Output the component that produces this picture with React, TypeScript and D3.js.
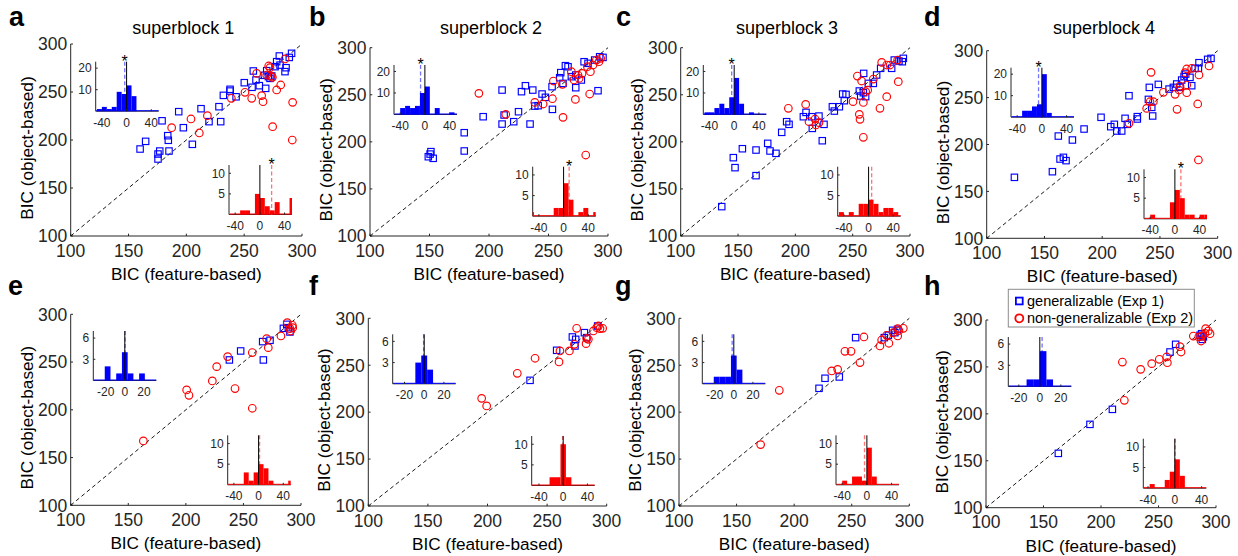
import React from 'react';
import * as d3 from 'd3';

// ---------------- data (BIC feature-based, BIC object-based) ----------------
const blueA: [number, number][] = [[160,190.6],[164.8,198.6],[175.5,185.4],[175.5,180.2],[177,188.5],[179,220],[183.9,204.5],[184.4,199.7],[185,188.5],[193.4,229.5],[197.4,212.8],[205.2,195.5],[212.7,232.6],[219.6,219.1],[228.2,234.7],[229.7,219.1],[232,246.5],[237.8,252.8],[237.8,251],[243,245],[250.1,259.7],[256.8,254.9],[257.9,271.9],[260.2,262.5],[263.1,256.6],[268.6,253.8],[267.4,267.4],[269.5,272.2],[270.9,266],[272.3,264.2],[273.8,266.7],[276.7,276.4],[278.1,281.6],[280.4,287.5],[281,278],[285.3,271.2],[286.2,275.3],[289,286],[291,290.3]];
const redA: [number, number][] = [[187.3,212.8],[204,221.9],[211.2,207.3],[218.2,225.3],[238.9,243.4],[250.7,249.7],[256.5,243.4],[260.8,269.4],[265.1,246.2],[266.3,239.9],[271.2,277.1],[272.3,275.3],[272.9,266.7],[274.4,265.3],[274.6,213.9],[278.1,252.1],[281.6,257.3],[285.3,284.4],[291.9,239.2],[291.6,200],[269.5,267.7]];

const blueB: [number, number][] = [[149,184.2],[151.2,189.6],[153.1,182.5],[150.5,187],[179.2,209.7],[179.2,190.3],[195.1,226.7],[211,255],[211,218.9],[212.7,228.5],[220.8,221.4],[224.8,232],[227.3,253.3],[230.6,259.6],[236.8,255],[234.5,218.9],[238.5,238],[241.3,238.4],[244.6,250.8],[247.4,247.3],[253.3,234.5],[253,258.6],[259.4,268.1],[260.3,273.5],[262.2,262.1],[264.2,280.9],[266.4,279.8],[272.9,257.5],[272.9,271],[277.6,265.7],[279.9,285.1],[283.2,283.4],[288.8,286.9],[291.6,254.3],[293,290.4],[295.8,289.7],[269.2,269.2]];
const redB: [number, number][] = [[191.5,251.5],[214.1,229.2],[238.5,241.9],[245.5,240.2],[253.3,245.8],[254.1,264.6],[261.7,261.1],[262.2,226],[269.2,274.5],[271.5,265.7],[272.6,245.1],[274.8,271],[275.7,267.4],[278.2,272.7],[281.3,186],[282.7,279.8],[284.6,250.8],[285.2,274.5],[287.4,281.6],[290.2,286.9],[292.4,285.1],[293.8,288.7]];

const blueC: [number, number][] = [[135.8,131.2],[145.9,183.2],[147.4,172.6],[153.8,192.7],[165.7,164.1],[165.7,191.3],[175.9,198.4],[177.9,190.3],[183.1,187.8],[188.1,210.1],[192.4,221.4],[194.5,218.6],[207,226.7],[209.3,231.3],[214.2,226.7],[220.6,227.4],[225,218.6],[223.5,201.2],[214.8,214.3],[232.3,237.3],[234,232.7],[238.4,237.3],[241.3,250.8],[244.2,250.4],[242.7,243.7],[255.8,254],[257,248.7],[259.3,252.2],[261.3,248],[259.6,272.7],[263.7,262.1],[268,262.1],[270.9,271],[274.4,278.1],[284,278.1],[286.3,286.9],[290.4,285.8],[294.2,288.7],[293.3,285.1]];
const redC: [number, number][] = [[193.9,235.6],[209,239.8],[211.9,221.4],[217.2,224.2],[218,217.9],[220.6,220.4],[250.3,242.7],[254.1,269.9],[255.8,229.2],[256.4,223.9],[257.8,264.6],[259.3,241.9],[259.3,204.8],[261.3,253.3],[263.1,255],[268,266.7],[273.8,235.6],[275.3,284.4],[279.7,248],[279.7,281.6],[282.6,281.6],[289.2,286.9],[289.8,263.9]];

const blueD: [number, number][] = [[124,165],[156.9,171],[162,209],[163.5,184.5],[166.4,186.3],[168.7,182.8],[174.2,204.8],[184.3,216.5],[199,229],[207.4,219],[210.5,221.5],[212.6,214.4],[216.9,214.4],[219.8,227.9],[221.8,221.5],[223.2,252],[230.4,227.2],[230.4,229.7],[240,248.1],[240.8,260.9],[242.9,239.6],[243.7,230.4],[248.6,264.1],[257.9,259.1],[261.6,260.9],[264.5,264.5],[268.8,268.7],[270.9,272.3],[272.3,275.1],[276,271.6],[277.5,262.7],[280.4,281.2],[283.8,287.2],[283.3,281.2],[291.3,290.8],[294.2,291.8],[267.4,260.9]];
const redD: [number, number][] = [[223.2,222.6],[238.5,238.5],[241.4,245.6],[242.3,276.9],[244.3,245.6],[253,255.6],[263.1,253.5],[264.8,237.5],[266.5,258.1],[267.4,262.3],[271.7,276.6],[273.2,280.5],[273.2,263.4],[273.2,255.2],[277.5,281.2],[282.7,243.2],[283.3,183.5],[283.8,274.1],[292.5,283.7]];

const blueE: [number, number][] = [[237.8,252.2],[247.6,261.6],[266.7,271.4],[267.3,252.2],[273.1,272.8],[284.7,285.3],[287.6,289.5],[289,286],[290.4,281.5]];
const redE: [number, number][] = [[163.1,167.4],[200.7,220.8],[202.7,215.2],[223,230.2],[226.8,245.2],[236.3,255.7],[242.7,222.2],[257.7,259.9],[257.7,201.6],[270.2,274.5],[271.6,265.1],[282.6,277.3],[288.1,291.3],[290.4,285],[291,282.5],[292.5,288.5],[292.8,286]];

const blueF: [number, number][] = [[235.7,233.9],[258,265.9],[271.2,280.1],[274,277.6],[273.4,270.5],[281.3,284.7],[283.2,279.4],[292.4,291.8]];
const redF: [number, number][] = [[195.1,214.7],[199.3,206.6],[225,241.4],[239.9,257.4],[260,253.5],[260.8,265.2],[268.7,265.2],[272.9,272.3],[274.8,289.3],[282.7,273],[283.2,278.7],[284.6,277.6],[288.8,286.5],[293,291.8],[294.4,289],[296.6,289.3],[291.6,290]];

const blueG: [number, number][] = [[221.6,225.4],[226.8,236.1],[239.2,237.5],[253.4,279.4],[278.3,279.4],[281.8,281.9],[285.5,287.2],[287.5,284.7],[289.9,288.3]];
const redG: [number, number][] = [[170.9,165.4],[187.1,223.3],[232.6,243.9],[237.8,245.6],[244.1,264.8],[249.4,264.8],[257.2,252.8],[260.6,280.1],[274.5,270.5],[276,276.9],[280.3,281.9],[282.3,273.4],[286.1,284.7],[289.9,281.2],[289.9,289],[291,287],[294.8,289.3]];

const blueH: [number, number][] = [[162.9,157.9],[190.4,188.8],[209.9,204.8],[260,265.9],[264.9,274.1],[286.1,283.7],[287.5,285.4],[288.1,279.4],[289,282]];
const redH: [number, number][] = [[218.6,255.2],[220.3,214.4],[234.5,247.4],[244.1,253.5],[250.7,258.1],[257.1,260.6],[257.7,254.5],[268.7,271.6],[269.6,265.9],[280.3,282.9],[287,277.6],[287.5,282.9],[290.4,285.8],[291,290.8],[293.3,288.3],[294.8,285.4],[285,282]];

// ---------------- histogram counts (object minus feature BIC) ----------------
// wide bins: first edge -56, width 8 ; narrow bins: first edge -33, width 6
const blueHistA = [0,1,2,1,2,9,8,12,7,0,0,0,0,0];
const redHistA  = [0,0,0,1,1,0,5,4,2,1,3,0,0,4];
const blueHistB = [0,0,3,4,3,4,10,13,0,3,0,0,1,0];
const redHistB  = [1,0,0,0,0,2,2,8,4,0,1,2,0,1];
const blueHistC = [0,1,1,3,5,3,8,17,5,0,1,0,0,0];
const redHistC  = [0,1,0,1,0,3,3,4,3,1,2,2,1,0];
const blueHistD = [0,0,0,3,3,5,6,20,2,0,0,0,0,0];
const redHistD  = [0,0,1,0,0,0,4,7,5,1,1,0,1,1];
const blueHistE = [0,0,2,0,1,4,1,0,1,0,0];
const redHistE  = [0,0,0,0,3,1,3,5,4,1,0,0,0,1];
const blueHistF = [0,0,0,0,3,4,2,0,0,0,0];
const redHistF  = [2,2,10,2];           // first edge -22.5, width 9
const blueHistG = [0,0,1,1,1,4,2,0,0,0,0];
const redHistG  = [0,0,1,0,2,2,1,9,2,0,0,0,0,0];
const blueHistH = [1,1,5,1];            // first edge -12.6, width 6.3
const redHistH  = [1,0,0,2,4,7,3];      // first edge -37.5, width 7.5

const blueMedians = [-3, -7, -4, -5.4, 0.3, -0.6, -1.7, 2.2];
const redMedians  = [19, 9, 5, 9.7, 1.6, -1, -3.8, 0.5];
const blueStars = [true, true, true, true, false, false, false, false];
const redStars  = [true, true, false, true, false, false, false, false];

const mainTicks = [100, 150, 200, 250, 300];
const wideTicks = [-40, 0, 40];
const narrowTicks = [-20, 0, 20];
const blueWideYTicks = [10, 20];
const blueNarrowYTicks = [3, 6];
const redYTicks = [5, 10];
const titles = ['superblock 1', 'superblock 2', 'superblock 3', 'superblock 4'];
const letters = ['a', 'b', 'c', 'd', 'e', 'f', 'g', 'h'];
const legendLabels = ['generalizable (Exp 1)', 'non-generalizable (Exp 2)'];
const xLabel = 'BIC (feature-based)';
const yLabel = 'BIC (object-based)';

// ---------------- layout ----------------
const BLUE = '#0000ff';
const RED = '#ff0000';
const BLUE_DASH = '#7373ff';
const RED_DASH = '#ff7373';
const INK = '#262626';
const FONT = '"Liberation Sans", Arial, Helvetica, sans-serif';
const INSET_W = 63;
const INSET_H = 49.5;

const LAYOUT = [
  { frame: [70.7, 302, 44, 236], blueIn: [95.7, 61.7], redIn: [229, 165], letter: [9, 26], title: [183.3, 33.5] },
  { frame: [370, 608, 47.7, 236], blueIn: [394, 65], redIn: [532.7, 166.7], letter: [309, 26], title: [491, 33.5] },
  { frame: [680.7, 910, 47.7, 236], blueIn: [703.3, 65], redIn: [837.7, 166.7], letter: [616, 26], title: [787, 33.5] },
  { frame: [986.7, 1217.7, 50.7, 238.3], blueIn: [1011, 67.7], redIn: [1144, 169.3], letter: [924, 26], title: [1104, 33.5] },
  { frame: [70.7, 301, 314.3, 505.3], blueIn: [93.3, 331], redIn: [227.7, 435.3], letter: [8, 295], title: null },
  { frame: [368.3, 606.7, 318.3, 506], blueIn: [392.7, 334.3], redIn: [531.7, 436], letter: [309, 295], title: null },
  { frame: [679, 909.3, 318.3, 506], blueIn: [702.3, 334.3], redIn: [836, 435.3], letter: [615, 295], title: null },
  { frame: [986, 1216, 320, 507.7], blueIn: [1008.3, 337], redIn: [1143.3, 438.7], letter: [924, 295], title: null },
];

type Hist = { counts: number[]; lo: number; w: number; domain: [number, number]; yMax: number; yTicks: number[]; xTicks: number[] };

const wide = (counts: number[], yMax: number, yTicks: number[], domain: [number, number] = [-50, 52]): Hist =>
  ({ counts, lo: -56, w: 8, domain, yMax, yTicks, xTicks: wideTicks });
const narrow = (counts: number[], domain: [number, number]): Hist =>
  ({ counts, lo: -33, w: 6, domain, yMax: 7, yTicks: blueNarrowYTicks, xTicks: narrowTicks });

const PANELS = [
  { blue: blueA, red: redA, bh: wide(blueHistA, 23, blueWideYTicks), rh: wide(redHistA, 12, redYTicks) },
  { blue: blueB, red: redB, bh: wide(blueHistB, 23, blueWideYTicks), rh: wide(redHistB, 12, redYTicks) },
  { blue: blueC, red: redC, bh: wide(blueHistC, 23, blueWideYTicks), rh: wide(redHistC, 12, redYTicks) },
  { blue: blueD, red: redD, bh: wide(blueHistD, 23, blueWideYTicks), rh: wide(redHistD, 12, redYTicks) },
  { blue: blueE, red: redE, bh: narrow(blueHistE, [-33, 33]), rh: wide(redHistE, 12, redYTicks) },
  { blue: blueF, red: redF, bh: narrow(blueHistF, [-32, 32]),
    rh: { counts: redHistF, lo: -22.5, w: 9, domain: [-52, 52], yMax: 12, yTicks: redYTicks, xTicks: wideTicks } as Hist },
  { blue: blueG, red: redG, bh: narrow(blueHistG, [-33, 33]), rh: wide(redHistG, 12, redYTicks) },
  { blue: blueH, red: redH,
    bh: { counts: blueHistH, lo: -12.6, w: 6.3, domain: [-30, 30], yMax: 7, yTicks: blueNarrowYTicks, xTicks: narrowTicks } as Hist,
    rh: { counts: redHistH, lo: -37.5, w: 7.5, domain: [-47, 47], yMax: 12, yTicks: redYTicks, xTicks: wideTicks } as Hist },
];

function Inset({ x0, y0, hist, color, dash, median, star }:
  { x0: number; y0: number; hist: Hist; color: string; dash: string; median: number; star: boolean }) {
  const xs = d3.scaleLinear().domain(hist.domain).range([x0, x0 + INSET_W]);
  const ys = d3.scaleLinear().domain([0, hist.yMax]).range([y0 + INSET_H, y0]);
  const bars = hist.counts
    .map((c, i) => ({ a: Math.max(hist.lo + i * hist.w, hist.domain[0]), b: Math.min(hist.lo + (i + 1) * hist.w, hist.domain[1]), c }))
    .filter(d => d.c > 0 && d.b > d.a);
  const base = y0 + INSET_H;
  return (
    <g>
      <line x1={x0} x2={x0} y1={y0} y2={base} stroke={INK} strokeWidth={1} />
      <line x1={x0} x2={x0 + INSET_W} y1={base} y2={base} stroke={INK} strokeWidth={1} />
      <line x1={x0 + 0.5} x2={x0 + INSET_W} y1={base - 0.5} y2={base - 0.5} stroke={color} strokeWidth={1} />
      <line x1={xs(median)} x2={xs(median)} y1={y0} y2={base} stroke={dash} strokeWidth={1.3} strokeDasharray="4 2.5" />
      {bars.map((d, i) => (
        <rect key={i} x={xs(d.a)} y={ys(d.c)} width={xs(d.b) - xs(d.a)} height={ys(0) - ys(d.c)} fill={color} />
      ))}
      <line x1={xs(0)} x2={xs(0)} y1={y0} y2={base} stroke="#000" strokeWidth={1} />
      {hist.xTicks.map(t => (
        <g key={'x' + t}>
          <line x1={xs(t)} x2={xs(t)} y1={base} y2={base - 2} stroke={INK} />
          <text x={xs(t)} y={base + 15.5} fontSize={12} textAnchor="middle" fill={INK}>{t}</text>
        </g>
      ))}
      {hist.yTicks.map(t => (
        <g key={'y' + t}>
          <line x1={x0} x2={x0 + 2} y1={ys(t)} y2={ys(t)} stroke={INK} />
          <text x={x0 - 4} y={ys(t)} dy="0.36em" fontSize={12} textAnchor="end" fill={INK}>{t}</text>
        </g>
      ))}
      {star && (
        <text x={xs(median)} y={y0 + 5} fontSize={16} textAnchor="middle" fill="#000">*</text>
      )}
    </g>
  );
}

function Panel({ idx }: { idx: number }) {
  const L = LAYOUT[idx];
  const P = PANELS[idx];
  const [l, r, t, b] = L.frame;
  const x = d3.scaleLinear().domain([100, 300]).range([l, r]);
  const y = d3.scaleLinear().domain([100, 300]).range([b, t]);
  const s = 6.4;
  return (
    <g>
      <text x={L.letter[0]} y={L.letter[1]} fontSize={27} fontWeight="bold" fill="#000">{letters[idx]}</text>
      {L.title && (
        <text x={L.title[0]} y={L.title[1]} fontSize={18} textAnchor="middle" fill="#000">{titles[idx]}</text>
      )}
      <line x1={l} x2={l} y1={t} y2={b} stroke={INK} strokeWidth={1} />
      <line x1={l} x2={r} y1={b} y2={b} stroke={INK} strokeWidth={1} />
      {mainTicks.map(v => (
        <g key={'mx' + v}>
          <line x1={x(v)} x2={x(v)} y1={b} y2={b - 2.3} stroke={INK} />
          <text x={x(v)} y={b + 20.5} fontSize={17.5} textAnchor="middle" fill={INK}>{v}</text>
        </g>
      ))}
      {mainTicks.map(v => (
        <g key={'my' + v}>
          <line x1={l} x2={l + 2.3} y1={y(v)} y2={y(v)} stroke={INK} />
          <text x={l - 3.5} y={y(v)} dy="0.36em" fontSize={17.5} textAnchor="end" fill={INK}>{v}</text>
        </g>
      ))}
      <text x={(l + r) / 2} y={b + 44} fontSize={17.2} textAnchor="middle" fill="#000">{xLabel}</text>
      <text transform={`translate(${l - 38},${(t + b) / 2 + 8}) rotate(-90)`} fontSize={17.2} textAnchor="middle" fill="#000">{yLabel}</text>
      <line x1={x(100)} y1={y(100)} x2={x(300)} y2={y(300)} stroke="#000" strokeWidth={0.9} strokeDasharray="4 3" />
      {P.blue.map((d, i) => (
        <rect key={'b' + i} x={x(d[0]) - s / 2} y={y(d[1]) - s / 2} width={s} height={s} fill="none" stroke={BLUE} strokeWidth={1.15} />
      ))}
      {P.red.map((d, i) => (
        <circle key={'r' + i} cx={x(d[0])} cy={y(d[1])} r={3.8} fill="none" stroke={RED} strokeWidth={1.15} />
      ))}
      <Inset x0={L.blueIn[0]} y0={L.blueIn[1]} hist={P.bh} color={BLUE} dash={BLUE_DASH} median={blueMedians[idx]} star={blueStars[idx]} />
      <Inset x0={L.redIn[0]} y0={L.redIn[1]} hist={P.rh} color={RED} dash={RED_DASH} median={redMedians[idx]} star={redStars[idx]} />
    </g>
  );
}

function Legend() {
  const x0 = 1008.3, y0 = 289.3, w = 186, h = 37.7;
  return (
    <g>
      <rect x={x0} y={y0} width={w} height={h} fill="#fff" stroke="#8c8c8c" strokeWidth={1} />
      <rect x={1019.3 - 3.4} y={301 - 3.4} width={6.8} height={6.8} fill="none" stroke={BLUE} strokeWidth={1.8} />
      <circle cx={1019.3} cy={318.3} r={4} fill="none" stroke={RED} strokeWidth={1.8} />
      <text x={1027} y={305.6} fontSize={14.5} fill="#000">{legendLabels[0]}</text>
      <text x={1027} y={323} fontSize={14.5} fill="#000">{legendLabels[1]}</text>
    </g>
  );
}

export default function App() {
  return (
    <svg width={1238} height={556} viewBox="0 0 1238 556"
      style={{ position: 'absolute', left: 0, top: 0, background: '#fff', fontFamily: FONT }}>
      <rect x={0} y={0} width={1238} height={556} fill="#fff" />
      {LAYOUT.map((_, i) => <Panel key={i} idx={i} />)}
      <Legend />
    </svg>
  );
}
